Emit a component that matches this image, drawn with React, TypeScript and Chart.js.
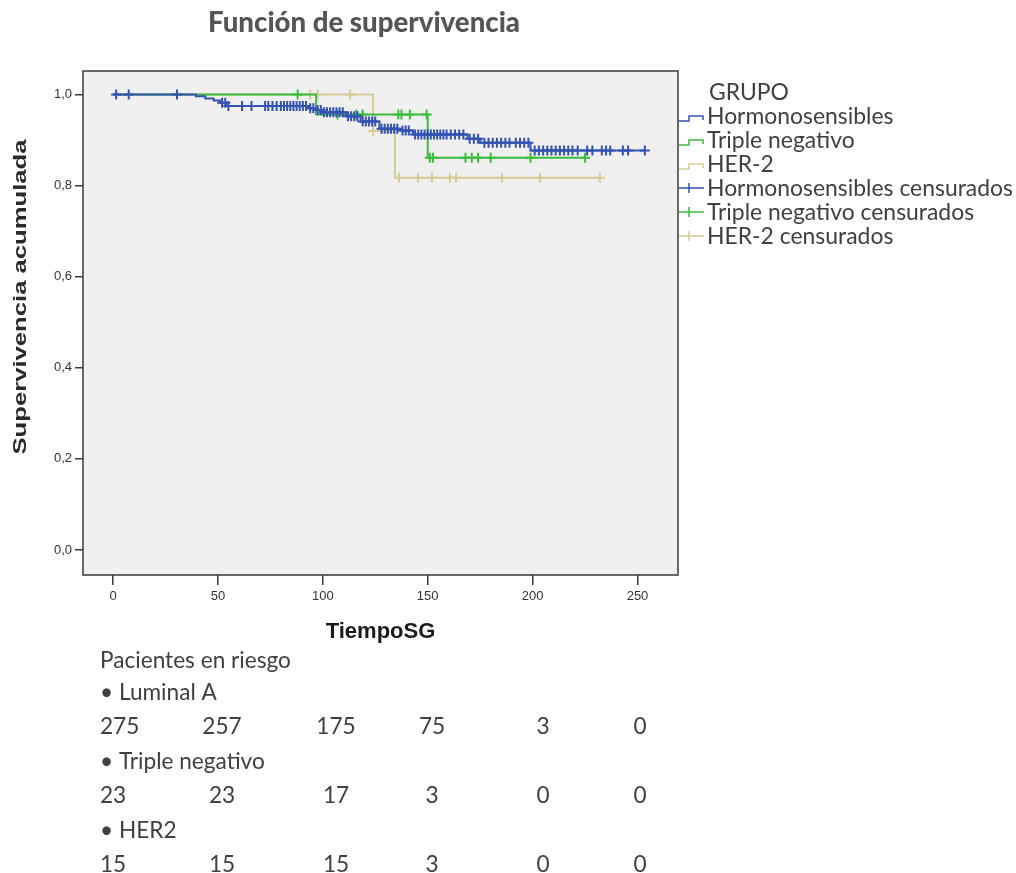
import React, { useEffect, useRef } from "react";
import { Chart, registerables } from "chart.js";
Chart.register(...registerables);

// ---------- data ----------
const xTicks = [0, 50, 100, 150, 200, 250];
const yTicks = [0, 0.2, 0.4, 0.6, 0.8, 1.0];

// Kaplan-Meier steps (time, survival)
const hormoTimes = [0, 39.5, 44, 48, 51, 54, 93, 97, 100, 111, 118, 127, 137, 143, 169, 175, 199, 254];
const hormoSurv = [1, 0.996, 0.991, 0.987, 0.982, 0.975, 0.97, 0.966, 0.961, 0.952, 0.941, 0.925, 0.921, 0.912, 0.903, 0.894, 0.877, 0.877];
const hormoCensored = [
  1.5, 7.5, 30.5, 52, 53.5, 55, 61.5, 66, 72.5, 74, 76, 78, 80, 81.5, 83, 84.5, 86, 87.5, 89, 90.5, 92,
  94, 95.5, 97.5, 99, 100.5, 102, 103.5, 105, 106.5, 108, 109.5, 112, 113.5, 115, 116.5,
  119, 120.5, 122, 123.5, 125, 128, 129.5, 131, 132.5, 134, 135.5, 138, 139.5, 141,
  144, 145.5, 147, 148.5, 150, 151.5, 153, 154.5, 156, 157.5, 159, 161, 163, 165, 167,
  170, 172, 174, 177, 179, 181, 183, 185, 187, 189, 192, 194, 196, 198,
  201, 203, 205, 207, 209, 211, 213, 215, 217, 219, 221.5, 226, 228.5, 233, 235, 237, 243, 245.5, 253.5,
];

const tripleTimes = [0, 96.8, 150, 225];
const tripleSurv = [1, 0.956, 0.861, 0.861];
const tripleCensored = [88, 107, 116, 119, 136, 137.5, 141.5, 149.5, 151, 152.5, 168, 171, 174, 180, 199, 225];

const her2Times = [0, 124, 134.4, 232];
const her2Surv = [1, 0.92, 0.817, 0.817];
const her2Censored = [94, 97.5, 113, 124, 136.3, 145.4, 152, 160.6, 163.5, 185.4, 203.5, 232];

const legendTitle = "GRUPO";
const legendLabels = [
  "Hormonosensibles",
  "Triple negativo",
  "HER-2",
  "Hormonosensibles censurados",
  "Triple negativo censurados",
  "HER-2 censurados",
];

const riskTitle = "Pacientes en riesgo";
const riskGroups = ["• Luminal A", "• Triple negativo", "• HER2"];
const riskLuminal = [275, 257, 175, 75, 3, 0];
const riskTriple = [23, 23, 17, 3, 0, 0];
const riskHer2 = [15, 15, 15, 3, 0, 0];

const chartTitle = "Función de supervivencia";
const xTitle = "TiempoSG";
const yTitle = "Supervivencia acumulada";

// ---------- styles ----------
const BLUE = "#3553b3";
const GREEN = "#3dbd3d";
const TAN = "#d5cd97";
const TEXT = "#404040";

const X_MIN = -14.3;
const X_MAX = 269.3;
const Y_MIN = -0.0549;
const Y_MAX = 1.0516;

function survAt(times: number[], surv: number[], t: number) {
  let s = surv[0];
  for (let i = 0; i < times.length; i++) if (times[i] <= t) s = surv[i];
  return s;
}

function fitFont(ctx: CanvasRenderingContext2D, text: string, weight: string, family: string, target: number) {
  ctx.font = `${weight} 20px ${family}`;
  const w = ctx.measureText(text).width;
  return (20 * target) / w;
}

const bgPlugin = {
  id: "bg",
  beforeDraw(chart: any) {
    const { ctx, chartArea: a } = chart;
    ctx.save();
    ctx.fillStyle = "#ffffff";
    ctx.fillRect(0, 0, chart.width, chart.height);
    ctx.fillStyle = "#f0f0f0";
    ctx.fillRect(a.left, a.top, a.right - a.left, a.bottom - a.top);
    ctx.restore();
  },
  afterDraw(chart: any) {
    const { ctx, chartArea: a } = chart;
    ctx.save();
    ctx.strokeStyle = "#3a3a3a";
    ctx.lineWidth = 1.5;
    ctx.strokeRect(a.left, a.top, a.right - a.left, a.bottom - a.top);

    // title
    const ts = fitFont(ctx, chartTitle, "900", "Lato", 312);
    ctx.font = `900 ${ts}px Lato`;
    ctx.fillStyle = "#555555";
    ctx.textAlign = "center";
    ctx.textBaseline = "alphabetic";
    ctx.fillText(chartTitle, 364, 22 + ts * 0.36);

    // y title
    ctx.save();
    ctx.translate(21, 297);
    ctx.rotate(-Math.PI / 2);
    ctx.font = "bold 19px 'Liberation Sans'";
    const yw = ctx.measureText(yTitle).width;
    ctx.scale(315 / yw, 1);
    ctx.fillStyle = "#2a2a2a";
    ctx.textAlign = "center";
    ctx.textBaseline = "middle";
    ctx.fillText(yTitle, 0, 0);
    ctx.restore();

    // legend
    const ls = fitFont(ctx, legendLabels[3], "normal", "Lato", 306);
    ctx.font = `normal ${ls}px Lato`;
    ctx.fillStyle = TEXT;
    ctx.textAlign = "left";
    ctx.fillText(legendTitle, 709, 91.5 + ls * 0.36);
    const cols = [BLUE, GREEN, TAN, BLUE, GREEN, TAN];
    legendLabels.forEach((lab, i) => {
      const cy = 116 + i * 24;
      ctx.strokeStyle = cols[i];
      ctx.lineWidth = 1.5;
      ctx.beginPath();
      if (i < 3) {
        ctx.moveTo(679, cy + 5);
        ctx.lineTo(689, cy + 5);
        ctx.lineTo(689, cy);
        ctx.lineTo(703, cy);
        ctx.lineTo(703, cy + 4);
      } else {
        ctx.moveTo(679, cy);
        ctx.lineTo(704, cy);
        ctx.moveTo(689, cy - 5);
        ctx.lineTo(689, cy + 5);
      }
      ctx.stroke();
      ctx.fillStyle = TEXT;
      ctx.fillText(lab, 707, cy + ls * 0.36);
    });

    // risk table
    const rs = fitFont(ctx, riskTitle, "normal", "Lato", 191);
    ctx.font = `normal ${rs}px Lato`;
    ctx.fillStyle = TEXT;
    ctx.textAlign = "left";
    const off = rs * 0.36;
    ctx.fillText(riskTitle, 100, 660 + off);
    const rows = [riskLuminal, riskTriple, riskHer2];
    const centers = [0, 222, 336, 432, 543, 640];
    rows.forEach((row, r) => {
      const gy = 692 + r * 69;
      ctx.textAlign = "left";
      ctx.fillText(riskGroups[r], 100, gy + off);
      const ny = gy + 34;
      row.forEach((v, c) => {
        if (c === 0) {
          ctx.textAlign = "left";
          ctx.fillText(String(v), 100, ny + off);
        } else {
          ctx.textAlign = "center";
          ctx.fillText(String(v), centers[c], ny + off);
        }
      });
    });
    ctx.restore();
  },
};

export default function App() {
  const ref = useRef<HTMLCanvasElement | null>(null);
  useEffect(() => {
    if (!ref.current) return;
    const line = (times: number[], surv: number[], color: string) => ({
      type: "line" as const,
      data: times.map((t, i) => ({ x: t, y: surv[i] })),
      stepped: true,
      borderColor: color,
      borderWidth: 2,
      pointRadius: 0,
      fill: false,
    });
    const cens = (pts: number[], times: number[], surv: number[], color: string) => ({
      type: "line" as const,
      data: pts.map((t) => ({ x: t, y: survAt(times, surv, t) })),
      showLine: false,
      pointStyle: "cross",
      pointRadius: 5,
      pointBorderWidth: 2,
      borderColor: color,
      backgroundColor: color,
    });
    const chart = new Chart(ref.current, {
      type: "line",
      data: {
        datasets: [
          cens(hormoCensored, hormoTimes, hormoSurv, BLUE),
          line(hormoTimes, hormoSurv, BLUE),
          cens(tripleCensored, tripleTimes, tripleSurv, GREEN),
          line(tripleTimes, tripleSurv, GREEN),
          cens(her2Censored, her2Times, her2Surv, TAN),
          line(her2Times, her2Surv, TAN),
        ] as any,
      },
      options: {
        animation: false,
        responsive: false,
        devicePixelRatio: 1,
        events: [],
        layout: { padding: { left: 0, top: 71, right: 1016 - 678, bottom: 873 - 645 } },
        plugins: { legend: { display: false }, tooltip: { enabled: false }, title: { display: false } },
        scales: {
          x: {
            type: "linear",
            min: X_MIN,
            max: X_MAX,
            afterBuildTicks: (a: any) => {
              a.ticks = xTicks.map((v) => ({ value: v }));
            },
            afterFit: (a: any) => {
              a.height = 70;
            },
            grid: { drawOnChartArea: false, drawTicks: true, tickLength: 10, color: "#3a3a3a", lineWidth: 1.5 },
            border: { display: false },
            ticks: {
              autoSkip: false,
              maxRotation: 0,
              padding: 4,
              color: "#333333",
              font: { family: "'Liberation Sans'", size: 13 },
              callback: (v: any) => String(v),
            },
            title: {
              display: true,
              text: xTitle,
              color: "#1a1a1a",
              font: { family: "'Liberation Sans'", size: 22, weight: "bold" },
              padding: { top: 0, bottom: 0 },
            },
          },
          y: {
            type: "linear",
            min: Y_MIN,
            max: Y_MAX,
            afterBuildTicks: (a: any) => {
              a.ticks = yTicks.map((v) => ({ value: v }));
            },
            afterFit: (a: any) => {
              a.width = 83;
            },
            grid: { drawOnChartArea: false, drawTicks: true, tickLength: 8, color: "#3a3a3a", lineWidth: 1.5 },
            border: { display: false },
            ticks: {
              padding: 3,
              color: "#333333",
              font: { family: "'Liberation Sans'", size: 13 },
              callback: (v: any) => Number(v).toFixed(1).replace(".", ","),
            },
            title: { display: false },
          },
        },
      } as any,
      plugins: [bgPlugin],
    });
    return () => chart.destroy();
  }, []);
  return (
    <div style={{ position: "absolute", left: 0, top: 0, width: 1016, height: 873 }}>
      <canvas ref={ref} width={1016} height={873} style={{ display: "block", width: 1016, height: 873 }} />
    </div>
  );
}
